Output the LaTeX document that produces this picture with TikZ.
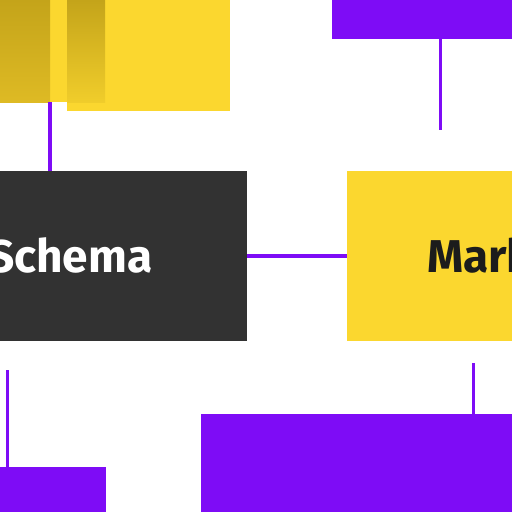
\documentclass[tikz,border=0pt]{standalone}
\usepackage{fontspec}
\setmainfont{Fira Sans}
\definecolor{ylw}{HTML}{FBD72F}
\definecolor{dylw}{HTML}{C4A41A}
\definecolor{dylwb}{HTML}{DEBA24}
\definecolor{prp}{HTML}{7E0CF6}
\definecolor{drk}{HTML}{323232}
\definecolor{txtdk}{HTML}{1C1C1C}
\begin{document}
\begin{tikzpicture}[x=1pt,y=-1pt,
  blockbox/.style={inner sep=0pt,outer sep=0pt,anchor=north west,draw=none},
  link/.style={draw=prp,line width=3.2pt},
  lbl/.style={inner sep=0pt,outer sep=0pt,anchor=base west,font=\bfseries\fontsize{46}{55}\selectfont}]
\useasboundingbox (0,0) rectangle (512,512);
\clip (0,0) rectangle (512,512);
\fill[white] (0,0) rectangle (512,512);
% top-left yellow group
\node[blockbox,fill=ylw,minimum width=163pt,minimum height=111pt] (ybig) at (67,0) {};
\node[blockbox,fill=ylw,minimum width=17pt,minimum height=102pt] (ymid) at (50,0) {};
\node[blockbox,top color=dylw,bottom color=dylwb,minimum width=50pt,minimum height=102pt] (yleft) at (0,0) {};
\node[blockbox,top color=dylw,bottom color=ylw!80!dylw,minimum width=38pt,minimum height=102pt] (ystrip) at (67,0) {};
% top-right purple bar
\node[blockbox,fill=prp,minimum width=180pt,minimum height=39pt] (ptop) at (332,0) {};
% middle boxes
\node[blockbox,fill=drk,minimum width=247pt,minimum height=170pt] (dark) at (0,171) {};
\node[blockbox,fill=ylw,minimum width=166pt,minimum height=170pt] (yel) at (346.5,171) {};
\node[lbl,text=white] (schema) at (-12,272.7) {Schema};
\node[lbl,text=txtdk] (mark) at (427,272.7) {Mark};
% bottom purple boxes
\node[blockbox,fill=prp,minimum width=106pt,minimum height=45pt] (pbl) at (0,467) {};
\node[blockbox,fill=prp,minimum width=311pt,minimum height=98pt] (pbig) at (201,414) {};
% connector coordinates
\coordinate (c1) at (440.5,130);
\coordinate (c2) at (50,102);
\coordinate (c3) at (7.5,370);
\coordinate (c4) at (473.5,363);
% connectors
\draw[link] (dark.east) -- (yel.west);
\draw[link] (ptop.south -| c1) -- (c1);
\draw[link] (c2) -- (c2 |- dark.north);
\draw[link] (c3) -- (c3 |- pbl.north);
\draw[link] (c4) -- (c4 |- pbig.north);
\end{tikzpicture}
\end{document}
